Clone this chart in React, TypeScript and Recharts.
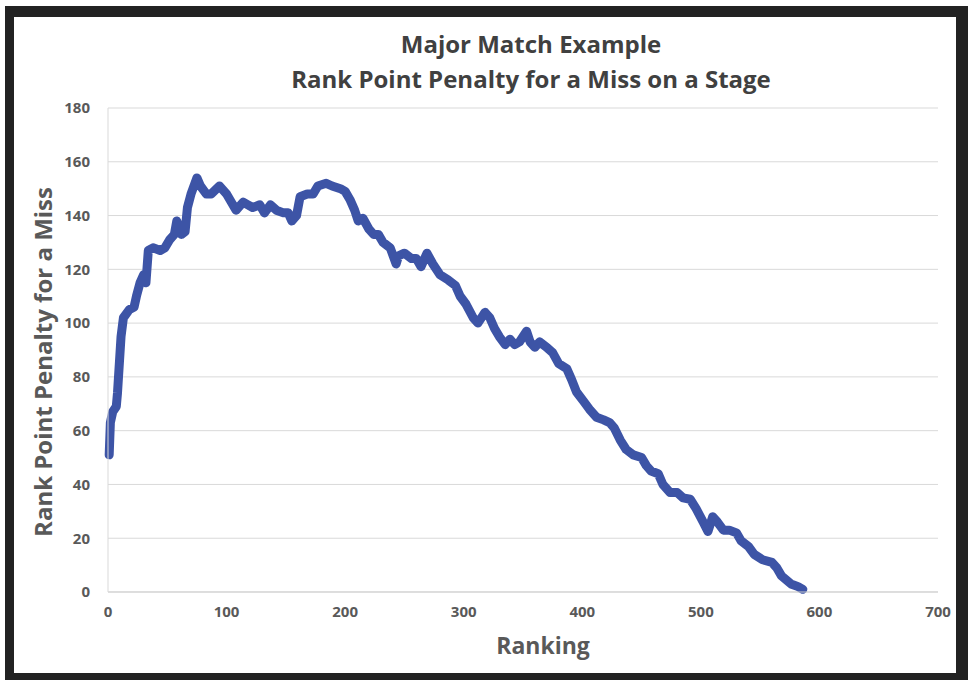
import { LineChart, Line, XAxis, YAxis, CartesianGrid } from 'recharts'

const ranks = [
  1, 2, 4, 7, 8, 11, 13, 18, 22, 24, 27, 30, 32, 34, 38, 44, 48, 52, 56, 58, 62, 65, 67, 70, 75, 78, 83, 87, 94,
  100, 108, 114, 118, 122, 128, 132, 137, 142, 148, 152, 155, 159, 162, 168, 173, 177, 184, 189, 196, 200, 204,
  208, 211, 215, 220, 224, 228, 232, 235, 238, 243, 245, 250, 256, 260, 264, 269, 274, 280, 287, 293, 297, 302,
  308, 312, 318, 322, 326, 330, 335, 339, 343, 347, 353, 356, 360, 364, 370, 375, 380, 387, 391, 395, 401, 406,
  412, 418, 423, 427, 432, 437, 443, 450, 454, 458, 464, 468, 474, 480, 485, 491, 496, 502, 506, 510, 514, 519,
  524, 530, 534, 540, 545, 552, 560, 564, 568, 572, 576, 582, 586,
]
const penalties = [
  51, 63, 67, 69, 74, 95, 102, 105, 106, 110, 115, 118, 115, 127, 128, 127, 128, 131, 133, 138, 133, 134, 143, 148,
  154, 151, 148, 148, 151, 148, 142, 145, 144, 143, 144, 141, 144, 142, 141, 141, 138, 140, 147, 148, 148, 151, 152,
  151, 150, 149, 146, 142, 138, 139, 135, 133, 133, 130, 129, 128, 122, 125, 126, 124, 124, 121, 126, 122, 118, 116,
  114, 110, 107, 102, 100, 104, 102, 98, 95, 92, 94, 92, 93, 97, 93, 91, 93, 91, 89, 85, 83, 79, 74.5, 71, 68, 65,
  64, 63, 61, 56.5, 53, 51, 50, 47, 45, 44, 40, 37, 37, 35, 34.5, 31, 26, 22.5, 28, 26, 23, 23, 22, 19, 17, 14, 12,
  11, 9, 6, 4.5, 3, 2, 1,
]
const xTicks = [0, 100, 200, 300, 400, 500, 600, 700]
const yTicks = [0, 20, 40, 60, 80, 100, 120, 140, 160, 180]

const data = ranks.map((r, i) => ({ rank: r, penalty: penalties[i] }))

const FONT = '"Open Sans", sans-serif'
const GRAY = '#595959'

function YTitle({ viewBox }: any) {
  const cx = viewBox.x + 34
  const cy = viewBox.y + viewBox.height / 2 + 12
  return (
    <text
      x={cx}
      y={cy}
      transform={`rotate(-90 ${cx} ${cy})`}
      textAnchor="middle"
      dominantBaseline="central"
      fill={GRAY}
      style={{ fontFamily: FONT, fontWeight: 700, fontSize: 24 }}
    >
      Rank Point Penalty for a Miss
    </text>
  )
}

export default function App() {
  return (
    <div style={{ position: 'absolute', left: 0, top: 0, width: 968, height: 680, background: '#fff', overflow: 'hidden' }}>
      <div style={{ position: 'absolute', left: 5, top: 6, width: 963, height: 674, background: '#222' }} />
      <div style={{ position: 'absolute', left: 14, top: 17, width: 942, height: 656, background: '#fff' }} />
      <div
        style={{
          position: 'absolute',
          left: 0,
          top: 26,
          width: 1062,
          textAlign: 'center',
          fontFamily: FONT,
          fontWeight: 700,
          fontSize: 24,
          lineHeight: '35px',
          color: '#404040',
        }}
      >
        <div>Major Match Example</div>
        <div>Rank Point Penalty for a Miss on a Stage</div>
      </div>
      <div style={{ position: 'absolute', left: 0, top: 0 }}>
        <LineChart width={968} height={680} data={data} margin={{ top: 108, right: 30, bottom: 18, left: 8 }}>
          <CartesianGrid horizontal vertical={false} stroke="#d9d9d9" />
          <XAxis
            dataKey="rank"
            type="number"
            domain={[0, 700]}
            ticks={xTicks}
            height={70}
            axisLine={{ stroke: '#cfcfcf' }}
            tickLine={false}
            tickSize={0}
            tickMargin={14}
            tick={{ fill: GRAY, fontFamily: FONT, fontWeight: 700, fontSize: 15 }}
            label={{
              value: 'Ranking',
              position: 'insideBottom',
              offset: 8,
              dx: 20,
              fill: GRAY,
              style: { fontFamily: FONT, fontWeight: 700, fontSize: 23 },
            }}
          />
          <YAxis
            type="number"
            domain={[0, 180]}
            ticks={yTicks}
            width={100}
            axisLine={{ stroke: '#d9d9d9' }}
            tickLine={false}
            tickSize={0}
            tickMargin={18}
            tick={{ fill: GRAY, fontFamily: FONT, fontWeight: 700, fontSize: 15 }}
            label={<YTitle />}
          />
          <Line
            dataKey="penalty"
            type="linear"
            stroke="#3d54a6"
            strokeWidth={9}
            strokeLinejoin="round"
            strokeLinecap="round"
            dot={false}
            isAnimationActive={false}
          />
        </LineChart>
      </div>
    </div>
  )
}
